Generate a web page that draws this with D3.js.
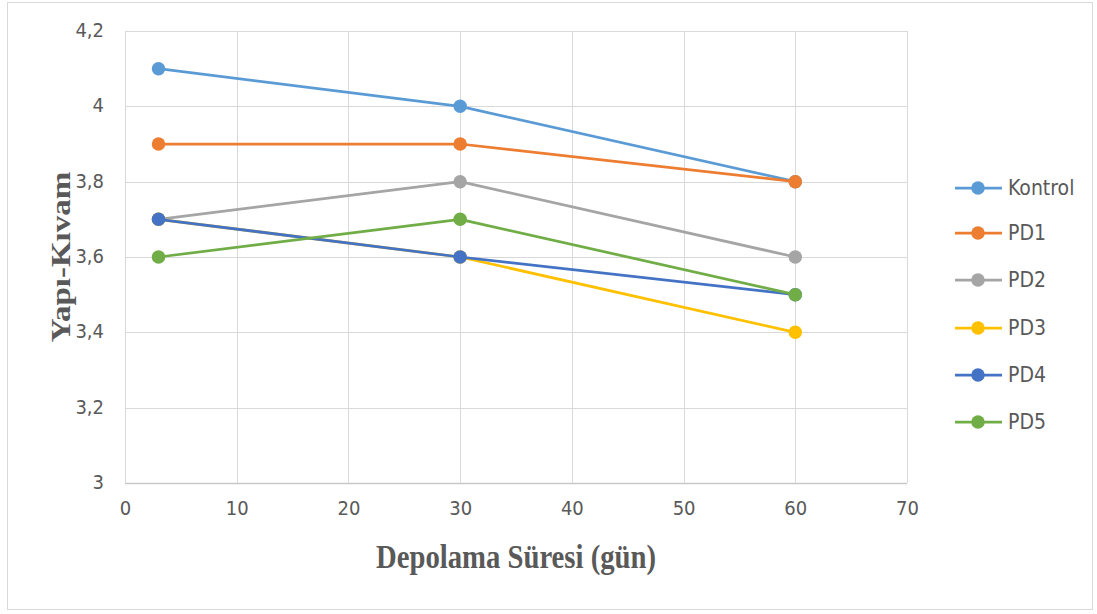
<!DOCTYPE html>
<html>
<head>
<meta charset="utf-8">
<script src="https://cdn.jsdelivr.net/npm/d3@7"></script>
<style>
  html, body { margin: 0; padding: 0; background: #fff; }
  svg { display: block; }
</style>
</head>
<body>
<svg id="chart" width="1097" height="614"></svg>
<script>
// Storage days and measured texture/consistency scores
const days = [3, 30, 60];
const seriesNames = ["Kontrol", "PD1", "PD2", "PD3", "PD4", "PD5"];
const kontrol = [4.1, 4.0, 3.8];
const pd1 = [3.9, 3.9, 3.8];
const pd2 = [3.7, 3.8, 3.6];
const pd3 = [3.7, 3.6, 3.4];
const pd4 = [3.7, 3.6, 3.5];
const pd5 = [3.6, 3.7, 3.5];
const seriesColors = ["#5b9bd5", "#ed7d31", "#a5a5a5", "#ffc000", "#4472c4", "#70ad47"];
const xTicks = [0, 10, 20, 30, 40, 50, 60, 70];
const yTicks = [3, 3.2, 3.4, 3.6, 3.8, 4, 4.2];
const yTickLabels = ["3", "3,2", "3,4", "3,6", "3,8", "4", "4,2"];

const series = seriesNames.map((name, i) => ({
  name,
  color: seriesColors[i],
  values: [kontrol, pd1, pd2, pd3, pd4, pd5][i]
}));

const svg = d3.select("#chart");
const plot = { left: 125, right: 907, top: 31, bottom: 483 };

const x = d3.scaleLinear().domain([0, 70]).range([plot.left, plot.right]);
const y = d3.scaleLinear().domain([3, 4.2]).range([plot.bottom, plot.top]);

// outer frame
svg.append("rect")
  .attr("x", 7.5).attr("y", 2.5)
  .attr("width", 1085).attr("height", 607)
  .attr("fill", "#fff")
  .attr("stroke", "#d9d9d9")
  .attr("stroke-width", 1);

const tickFont = "'Liberation Sans Narrow', 'DejaVu Sans Condensed', sans-serif";
const tickSize = 20;

// gridlines
const grid = svg.append("g");
grid.selectAll("line.h").data(yTicks).join("line")
  .attr("x1", plot.left).attr("x2", plot.right)
  .attr("y1", d => Math.round(y(d)) + 0.5).attr("y2", d => Math.round(y(d)) + 0.5)
  .attr("stroke", "#d9d9d9").attr("stroke-width", 1);
grid.selectAll("line.v").data(xTicks).join("line")
  .attr("y1", plot.top).attr("y2", plot.bottom)
  .attr("x1", d => Math.round(x(d)) + 0.5).attr("x2", d => Math.round(x(d)) + 0.5)
  .attr("stroke", "#d9d9d9").attr("stroke-width", 1);

// baseline
svg.append("line")
  .attr("x1", plot.left).attr("x2", plot.right)
  .attr("y1", plot.bottom + 0.5).attr("y2", plot.bottom + 0.5)
  .attr("stroke", "#c8c8c8").attr("stroke-width", 1.5);

// axes
const yAxis = d3.axisLeft(y).tickValues(yTicks)
  .tickFormat((d, i) => yTickLabels[i]).tickSize(0).tickPadding(21);
const gy = svg.append("g").attr("transform", `translate(${plot.left},0)`).call(yAxis);
gy.select(".domain").remove();
gy.selectAll("text").attr("font-family", tickFont).attr("font-size", tickSize)
  .attr("fill", "#595959").attr("dy", "0.28em");

const xAxis = d3.axisBottom(x).tickValues(xTicks).tickSize(0).tickPadding(18);
const gx = svg.append("g").attr("transform", `translate(0,${plot.bottom})`).call(xAxis);
gx.select(".domain").remove();
gx.selectAll("text").attr("font-family", tickFont).attr("font-size", tickSize).attr("fill", "#595959");

// axis titles (serif bold, slightly condensed horizontally)
const titleFont = "'Liberation Serif', 'DejaVu Serif', serif";
svg.append("text")
  .attr("transform", "translate(516,568) scale(0.87,1)")
  .attr("text-anchor", "middle")
  .attr("font-family", titleFont)
  .attr("font-weight", "bold").attr("font-size", 33).attr("fill", "#595959")
  .text("Depolama Süresi (gün)");

svg.append("text")
  .attr("transform", "translate(70,257) rotate(-90) scale(1,0.85)")
  .attr("text-anchor", "middle")
  .attr("font-family", titleFont)
  .attr("font-weight", "bold").attr("font-size", 33).attr("fill", "#595959")
  .text("Yapı-Kıvam");

// series lines and markers
const line = d3.line().x((d, i) => x(days[i])).y(d => y(d));
const sg = svg.append("g").selectAll("g").data(series).join("g");
sg.append("path")
  .attr("d", d => line(d.values))
  .attr("fill", "none")
  .attr("stroke", d => d.color)
  .attr("stroke-width", 2.75)
  .attr("stroke-linejoin", "round");
sg.selectAll("circle").data(d => d.values.map((v, i) => ({ v, i, color: d.color }))).join("circle")
  .attr("cx", d => x(days[d.i]))
  .attr("cy", d => y(d.v))
  .attr("r", 6.75)
  .attr("fill", d => d.color);

// legend
const legendY = [188, 233, 280, 328, 375, 422];
const lg = svg.append("g").selectAll("g").data(series).join("g")
  .attr("transform", (d, i) => `translate(0,${legendY[i]})`);
lg.append("line")
  .attr("x1", 955).attr("x2", 1002).attr("y1", 0).attr("y2", 0)
  .attr("stroke", d => d.color).attr("stroke-width", 2.75);
lg.append("circle").attr("cx", 978).attr("cy", 0).attr("r", 6.75).attr("fill", d => d.color);
lg.append("text")
  .attr("x", 1008).attr("y", 0).attr("dy", "0.35em")
  .attr("font-family", tickFont).attr("font-size", 21).attr("fill", "#595959")
  .text(d => d.name);
</script>
</body>
</html>
